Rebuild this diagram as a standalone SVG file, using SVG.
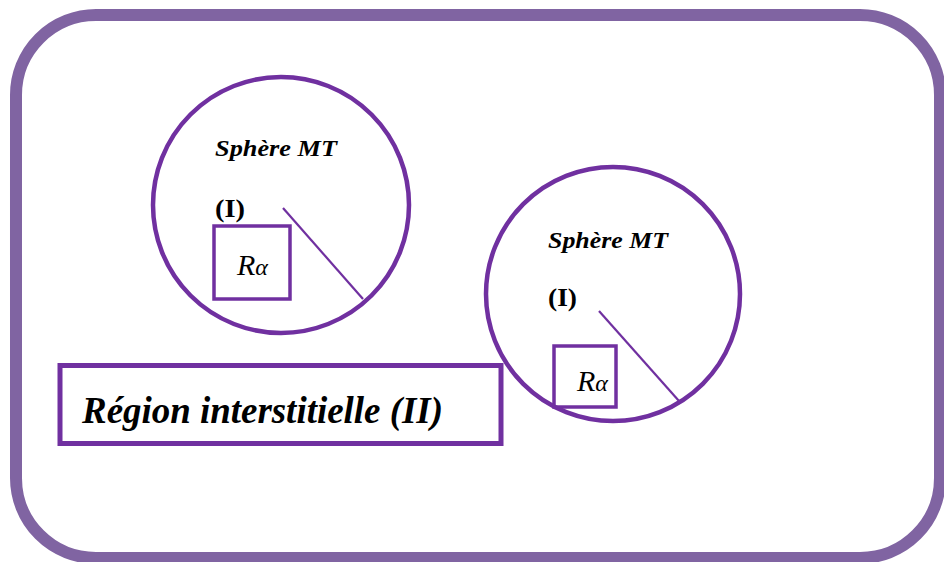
<svg xmlns="http://www.w3.org/2000/svg" width="944" height="562" viewBox="0 0 944 562">
<style>
.frame{fill:none;stroke:#8064A2;stroke-width:12}
.circ{fill:none;stroke:#7030A0;stroke-width:4.5}
.rad{stroke:#7030A0;stroke-width:2.2}
.sq{fill:none;stroke:#7030A0;stroke-width:3.5}
.lbl{font-family:"Liberation Serif",serif;font-weight:bold;font-style:italic;font-size:24px;fill:#000}
.num{font-family:"Liberation Serif",serif;font-weight:bold;font-size:25px;fill:#000}
.ra{font-family:"Liberation Serif",serif;font-style:italic;font-size:30px;fill:#000}
.reg{font-family:"Liberation Serif",serif;font-weight:bold;font-style:italic;font-size:37px;fill:#000}
</style>
<rect width="944" height="562" fill="#fff"/>
<rect class="frame" x="16" y="15" width="924" height="543" rx="80" ry="80"/>
<g id="sphere1">
<circle class="circ" cx="281" cy="205" r="128"/>
<line class="rad" x1="283" y1="208" x2="363" y2="299"/>
<rect class="sq" x="214" y="226" width="76" height="73"/>
<text class="lbl" x="215" y="156" textLength="122" lengthAdjust="spacingAndGlyphs">Sphère MT</text>
<text class="num" x="215" y="217" textLength="30" lengthAdjust="spacingAndGlyphs">(I)</text>
<text class="ra" x="237" y="275">R<tspan font-size="24">α</tspan></text>
</g>
<g id="sphere2">
<circle class="circ" cx="613" cy="294" r="127"/>
<line class="rad" x1="599" y1="311" x2="679" y2="401"/>
<rect class="sq" x="554" y="346" width="62" height="61"/>
<text class="lbl" x="548" y="248" textLength="120" lengthAdjust="spacingAndGlyphs">Sphère MT</text>
<text class="num" x="548" y="306" textLength="29" lengthAdjust="spacingAndGlyphs">(I)</text>
<text class="ra" x="577" y="391">R<tspan font-size="24">α</tspan></text>
</g>
<g id="region">
<rect x="60" y="365.5" width="441" height="78" fill="none" stroke="#7030A0" stroke-width="5"/>
<text class="reg" x="82" y="423" textLength="361" lengthAdjust="spacingAndGlyphs">Région interstitielle (II)</text>
</g>
<g id="connectors"/>
</svg>
